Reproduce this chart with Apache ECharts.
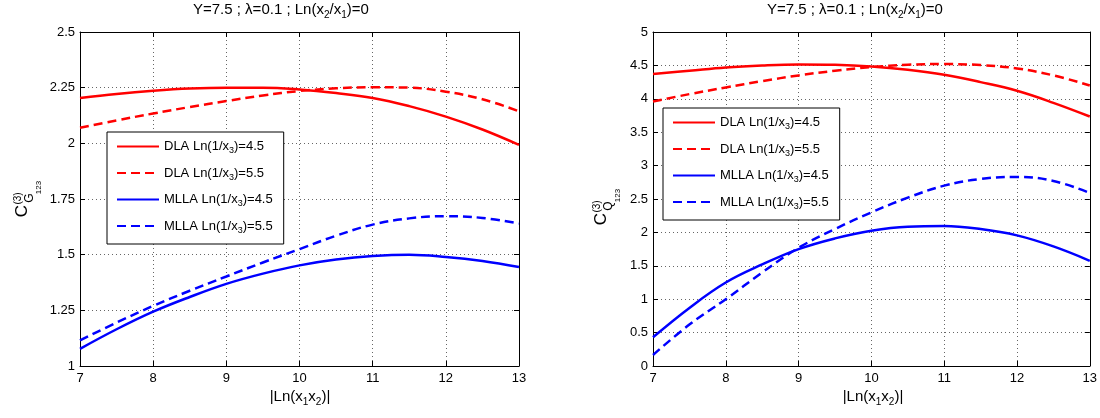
<!DOCTYPE html>
<html><head><meta charset="utf-8">
<script src="https://cdn.jsdelivr.net/npm/echarts@6/dist/echarts.min.js"></script>
<style>html,body{margin:0;padding:0;background:#fff}#c{width:1100px;height:418px}</style>
</head><body><div id="c"></div>
<script>
// ---- data ----
const xVals = [7, 7.5, 8, 8.5, 9, 9.5, 10, 10.5, 11, 11.5, 12, 12.5, 13];
// left panel: C(3)_G123
const gDla45  = [2.204, 2.222, 2.236, 2.246, 2.250, 2.250, 2.242, 2.226, 2.204, 2.167, 2.120, 2.062, 1.993];
const gDla55  = [2.070, 2.103, 2.134, 2.163, 2.190, 2.215, 2.235, 2.247, 2.252, 2.250, 2.232, 2.198, 2.144];
const gMlla45 = [1.077, 1.165, 1.244, 1.310, 1.369, 1.415, 1.452, 1.478, 1.494, 1.500, 1.490, 1.472, 1.445];
const gMlla55 = [1.115, 1.195, 1.270, 1.338, 1.402, 1.465, 1.525, 1.585, 1.635, 1.663, 1.673, 1.665, 1.640];
// right panel: C(3)_Q123
const qDla45  = [4.370, 4.420, 4.470, 4.500, 4.515, 4.510, 4.485, 4.435, 4.360, 4.250, 4.120, 3.940, 3.735];
const qDla55  = [3.960, 4.070, 4.170, 4.265, 4.350, 4.420, 4.475, 4.510, 4.520, 4.505, 4.455, 4.350, 4.200];
const qMlla45 = [0.430, 0.870, 1.250, 1.520, 1.750, 1.910, 2.025, 2.085, 2.095, 2.050, 1.955, 1.790, 1.575];
const qMlla55 = [0.165, 0.620, 1.000, 1.400, 1.770, 2.050, 2.300, 2.520, 2.700, 2.800, 2.830, 2.770, 2.590];
// axes / ticks
const xRange = [7, 13], xStep = 1;
const gRange = [1, 2.5], gStep = 0.25;
const qRange = [0, 5], qStep = 0.5;
const seriesNames = ['DLA Ln(1/x3)=4.5', 'DLA Ln(1/x3)=5.5', 'MLLA Ln(1/x3)=4.5', 'MLLA Ln(1/x3)=5.5'];
const titleText = 'Y=7.5 ; \u03bb=0.1 ; Ln(x{sub|2}/x{sub|1})=0';
const xName = '|Ln(x{sub|1}x{sub|2})|';

// ---- chart ----
const FONT = '"Liberation Sans", Arial, Helvetica, sans-serif';
const chart = echarts.init(document.getElementById('c'), null, {renderer: 'canvas'});
const pair = arr => arr.map((v, i) => [xVals[i], v]);
const RED = '#ff0000', BLUE = '#0000ff';
const styles = [
  {color: RED, type: 'solid'}, {color: RED, type: [9, 5]},
  {color: BLUE, type: 'solid'}, {color: BLUE, type: [9, 5]}
];
const grids = [
  {left: 80, top: 32, width: 439, height: 334},
  {left: 653, top: 32, width: 440, height: 334}
];
const gridLine = {show: true, lineStyle: {color: '#666', width: 1, type: [1, 3]}};
const axLine = {show: true, onZero: false, lineStyle: {color: '#000', width: 1}};
const tick = {show: true, inside: true, length: 5, lineStyle: {color: '#000'}};
const lbl = {color: '#000', fontSize: 13, fontFamily: FONT};

function xAxes(gi) {
  return [
    {gridIndex: gi, type: 'value', position: 'bottom', min: xRange[0], max: xRange[1], interval: xStep,
     axisLine: axLine, axisTick: tick, axisLabel: Object.assign({margin: 6}, lbl), splitLine: gridLine},
    {gridIndex: gi, type: 'value', position: 'top', min: xRange[0], max: xRange[1], interval: xStep,
     axisLine: axLine, axisTick: tick, axisLabel: {show: false}, splitLine: {show: false}}
  ];
}
function yAxes(gi, r, s) {
  return [
    {gridIndex: gi, type: 'value', position: 'left', min: r[0], max: r[1], interval: s,
     axisLine: axLine, axisTick: tick, axisLabel: Object.assign({margin: 5}, lbl), splitLine: gridLine},
    {gridIndex: gi, type: 'value', position: 'right', min: r[0], max: r[1], interval: s,
     axisLine: axLine, axisTick: tick, axisLabel: {show: false}, splitLine: {show: false}}
  ];
}
const panelData = [[gDla45, gDla55, gMlla45, gMlla55], [qDla45, qDla55, qMlla45, qMlla55]];
const series = [];
panelData.forEach((set, gi) => {
  set.forEach((arr, k) => {
    series.push({
      type: 'line', name: seriesNames[k], data: pair(arr),
      xAxisIndex: gi * 2, yAxisIndex: gi * 2,
      smooth: 0.4, symbol: 'none', showSymbol: false,
      lineStyle: {color: styles[k].color, width: 2.5, type: styles[k].type},
      itemStyle: {color: styles[k].color}, z: 3
    });
  });
});
const richSub = {
  sub: {fontSize: 9, fontFamily: FONT, color: '#000', padding: [9, 0, 0, 0]}
};
function legend(left, top) {
  return {
    left: left, top: top, orient: 'vertical', data: seriesNames,
    itemWidth: 42, itemHeight: 14, itemGap: 11,
    itemStyle: {opacity: 0, borderWidth: 0},
    borderColor: '#000', borderWidth: 1, borderRadius: 0, backgroundColor: '#fff',
    padding: [8, 11, 9, 9],
    textStyle: {fontSize: 13, fontFamily: FONT, color: '#000', rich: richSub},
    formatter: n => n.replace('x3', 'x{sub|3}'),
    selectedMode: false, z: 10
  };
}
function textEl(x, y, txt, size, subSize, align) {
  return {type: 'text', x: x, y: y, silent: true,
    style: {text: txt, fontSize: size, fontFamily: FONT, fill: '#000', align: align || 'left', verticalAlign: 'middle',
      rich: {sub: {fontSize: subSize, fontFamily: FONT, fill: '#000', padding: [10, 0, 0, 0]}}}};
}
function yName(x0, y0, letter) {
  const t = (x, y, s, size) => ({type: 'text', x: x, y: y,
    style: {text: s, fontSize: size, fontFamily: FONT, fill: '#000', align: 'center', verticalAlign: 'middle'}});
  return {type: 'group', x: x0, y: y0, rotation: Math.PI / 2, silent: true, children: [
    t(8, 5, 'C', 17), t(20.5, 1, '(3)', 10), t(21, 12.5, letter, 12), t(31.5, 21.5, '123', 8)
  ]};
}
chart.setOption({
  animation: false,
  backgroundColor: '#fff',
  grid: grids,
  xAxis: xAxes(0).concat(xAxes(1)),
  yAxis: yAxes(0, gRange, gStep).concat(yAxes(1, qRange, qStep)),
  legend: [legend(107, 132), legend(663, 108)],
  series: series,
  graphic: [
    textEl(193, 10, titleText, 15, 10, 'left'),
    textEl(767, 10, titleText, 15, 10, 'left'),
    textEl(300, 397, xName, 15, 10, 'center'),
    textEl(873, 397, xName, 15, 10, 'center'),
    yName(17, 219, 'G'),
    yName(596, 227, 'Q')
  ]
});
</script></body></html>
